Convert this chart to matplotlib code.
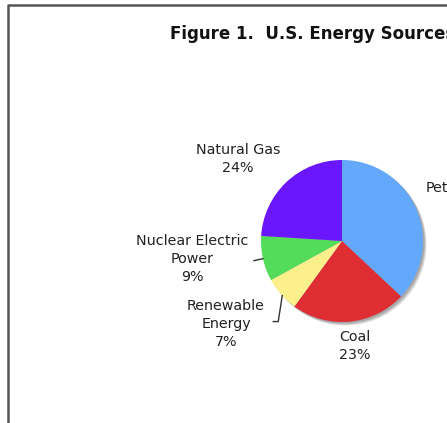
import numpy as np
import matplotlib
matplotlib.use('Agg')
import matplotlib.pyplot as plt
from matplotlib.patches import Circle

# data
sources = ['Petroleum', 'Coal', 'Renewable\nEnergy', 'Nuclear Electric\nPower', 'Natural Gas']
shares = [37, 23, 7, 9, 24]
colors = ['#63a8fb', '#de2e34', '#fcf08c', '#52dc5a', '#6a17fd']

W, H = 447, 423
fig = plt.figure(figsize=(W / 100, H / 100), dpi=100)
ax = fig.add_axes([0, 0, 1, 1])

cx, cy, r = 342, H - 241, 81

# soft shadow behind the pie
for off, a in [(3.5, 0.25), (2.5, 0.35), (1.5, 0.45)]:
    ax.add_patch(Circle((cx + off, cy - off), r, color='#888888', alpha=a, lw=0, zorder=1))

wedges, _ = ax.pie(shares, colors=colors, startangle=90, counterclock=False,
                   center=(cx, cy), radius=r, frame=True,
                   wedgeprops=dict(linewidth=0, zorder=2))
ax.set_xlim(0, W)
ax.set_ylim(0, H)
ax.set_aspect('equal')
ax.axis('off')

txt = dict(fontsize=10.3, color='#222222', ha='center', va='center', linespacing=1.33)
labels_pos = [(462, H - 197), (355, H - 346), (226, H - 324), (192, H - 259), (238, H - 159)]
for name, val, (lx, ly) in zip(sources, shares, labels_pos):
    ax.text(lx, ly, f'{name}\n{val}%', **txt)

# leader lines for the two small slices
def edge_point(w):
    ang = np.deg2rad((w.theta1 + w.theta2) / 2)
    return cx + r * np.cos(ang), cy + r * np.sin(ang)

nx, ny = edge_point(wedges[3])
ax.plot([nx, nx - 9], [ny, ny - 2], color='#333333', lw=1, zorder=3)
rx, ry = edge_point(wedges[2])
ax.plot([rx + 1, rx - 3, rx - 8], [ry - 1, ry - 27, ry - 27], color='#333333', lw=1, zorder=3)

ax.text(170, H - 34, 'Figure 1.  U.S. Energy Sources', fontsize=12, fontweight='bold',
        color='#111111', ha='left', va='center')

# page frame
ax.plot([8, 8, W + 5], [-5, H - 5, H - 5], color='#555555', lw=1.8, zorder=0)

fig.savefig('out.png', dpi=100)
